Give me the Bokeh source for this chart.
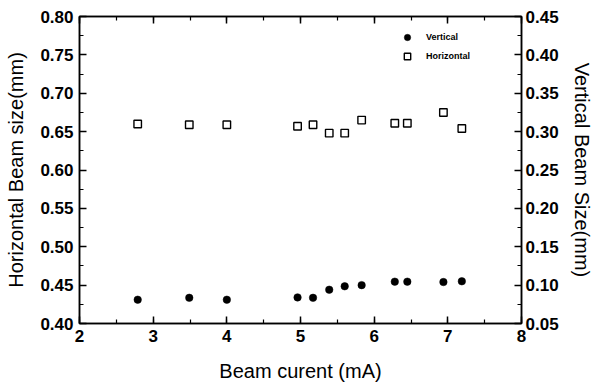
from bokeh.plotting import figure
from bokeh.models import (Range1d, LinearAxis, SingleIntervalTicker, NumeralTickFormatter,
                          ColumnDataSource, Legend, LegendItem, CustomJSTickFormatter)
from bokeh.embed import file_html
from bokeh.resources import INLINE

# Data
beam_current = [2.79, 3.49, 4.0, 4.96, 5.17, 5.39, 5.6, 5.83, 6.28, 6.45, 6.94, 7.19]
horizontal_size = [0.660, 0.659, 0.659, 0.657, 0.659, 0.648, 0.648, 0.665, 0.661, 0.661, 0.675, 0.654]
vertical_size = [0.081, 0.0835, 0.081, 0.084, 0.0835, 0.094, 0.0985, 0.100, 0.1045, 0.1045, 0.104, 0.105]

FONT = "Liberation Sans"

p = figure(frame_width=442, frame_height=307, output_backend="svg", toolbar_location=None,
           x_range=Range1d(2, 8), y_range=Range1d(0.40, 0.80),
           min_border_left=79, min_border_top=16, min_border_right=64, min_border_bottom=58,
           background_fill_color="white", border_fill_color="white")
p.extra_y_ranges = {"v": Range1d(0.05, 0.45)}
p.xgrid.visible = False
p.ygrid.visible = False
p.outline_line_color = "black"
p.outline_line_width = 1.5

def style(ax):
    ax.axis_line_width = 1.5
    ax.major_tick_in = 7
    ax.major_tick_out = 0
    ax.minor_tick_in = 4
    ax.minor_tick_out = 0
    ax.major_tick_line_width = 1.5
    ax.minor_tick_line_width = 1.2
    ax.major_label_text_font = FONT
    ax.major_label_text_font_size = "17px"
    ax.major_label_text_font_style = "bold"
    ax.major_label_text_color = "black"
    ax.axis_label_text_font = FONT
    ax.axis_label_text_font_size = "20px"
    ax.axis_label_text_font_style = "normal"
    ax.axis_label_text_color = "black"

xb = p.xaxis[0]
xb.ticker = SingleIntervalTicker(interval=1, num_minor_ticks=2)
xb.axis_label = "Beam curent (mA)"
style(xb)
xb.major_label_standoff = 6
xb.axis_label_standoff = 15

yl = p.yaxis[0]
yl.ticker = SingleIntervalTicker(interval=0.05, num_minor_ticks=2)
yl.formatter = NumeralTickFormatter(format="0.00")
yl.axis_label = "Horizontal Beam size(mm)"
style(yl)
yl.major_label_standoff = 6
yl.axis_label_standoff = 10

yr = LinearAxis(y_range_name="v", ticker=SingleIntervalTicker(interval=0.05, num_minor_ticks=2),
                formatter=NumeralTickFormatter(format="0.00"), axis_label="Vertical Beam Size(mm)")
style(yr)
yr.major_label_standoff = 4
yr.axis_label_standoff = 9
p.add_layout(yr, "right")

xt = LinearAxis(ticker=SingleIntervalTicker(interval=1, num_minor_ticks=2),
                formatter=CustomJSTickFormatter(code="return ''"))
style(xt)
xt.major_label_text_font_size = "0px"
xt.major_label_standoff = 0
p.add_layout(xt, "above")

src = ColumnDataSource(dict(x=beam_current, h=horizontal_size, v=vertical_size))
r_v = p.scatter("x", "v", source=src, y_range_name="v", marker="circle", size=7.5,
                fill_color="black", line_color="black", line_width=0.5)
r_h = p.scatter("x", "h", source=src, marker="square", size=7.5,
                fill_color=None, line_color="black", line_width=1.4)

legend = Legend(items=[LegendItem(label="Vertical", renderers=[r_v]),
                       LegendItem(label="Horizontal", renderers=[r_h])],
                location=(320, 259), border_line_color=None, background_fill_alpha=0,
                padding=0, margin=0, spacing=3, glyph_width=16, glyph_height=16,
                label_height=16, label_standoff=11,
                label_text_font=FONT, label_text_font_size="9px", label_text_font_style="bold",
                label_text_color="black")
p.add_layout(legend, "center")

open("out.html", "w").write(file_html(p, INLINE))
